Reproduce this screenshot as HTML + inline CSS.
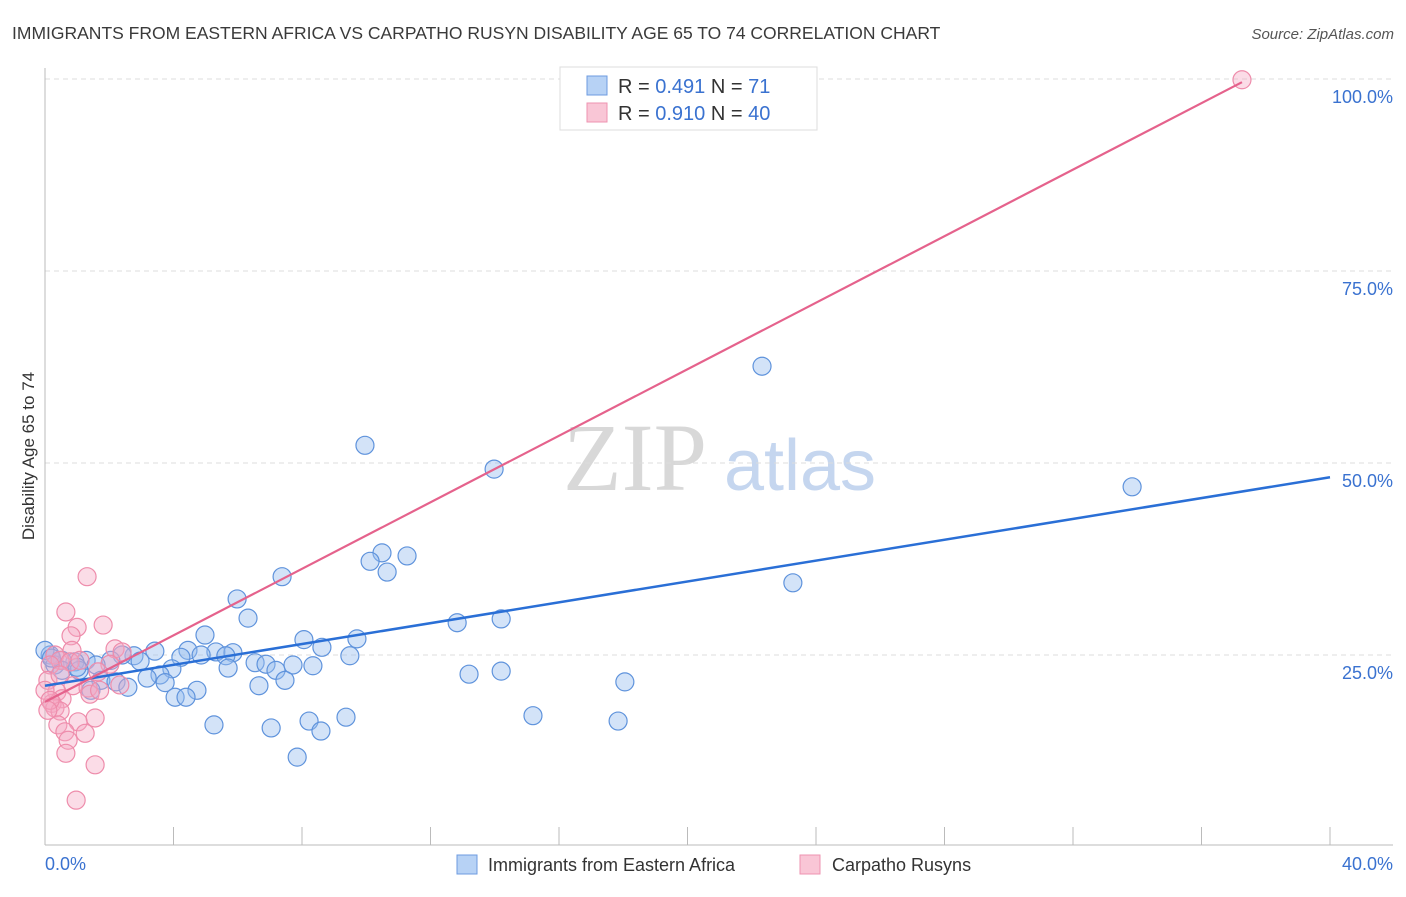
<!DOCTYPE html>
<html><head><meta charset="utf-8"><style>
body{margin:0;background:#fff;font-family:"Liberation Sans",sans-serif}
</style></head><body>
<svg id="chart" width="1406" height="892" xmlns="http://www.w3.org/2000/svg" font-family="Liberation Sans, sans-serif">
<text x="12" y="39" font-size="17.5" fill="#3a3a3a">IMMIGRANTS FROM EASTERN AFRICA VS CARPATHO RUSYN DISABILITY AGE 65 TO 74 CORRELATION CHART</text>
<text x="1394" y="39" font-size="15" fill="#555" font-style="italic" text-anchor="end">Source: ZipAtlas.com</text>
<g>
<text x="635" y="490" font-size="96" font-family="Liberation Serif, serif" fill="#d8d8d8" text-anchor="middle">ZIP</text>
<text x="800" y="490" font-size="72" fill="#c5d6ef" text-anchor="middle">atlas</text>
</g>
<g id="grid"></g>
<g id="axes"></g>
<g id="pts"></g>
<g id="lines"></g>
<text transform="translate(34,456) rotate(-90)" font-size="17" fill="#333" text-anchor="middle">Disability Age 65 to 74</text>
<g>
<rect x="560" y="67" width="257" height="63" fill="#fff" stroke="#ddd"/>
<rect x="587" y="76" width="20" height="19" fill="#b7d2f5" stroke="#6d9be0"/>
<rect x="587" y="103" width="20" height="19" fill="#f9c6d6" stroke="#ee93b0"/>
<text x="618" y="93" font-size="20" fill="#333">R = <tspan fill="#3a72d0">0.491</tspan>   N = <tspan fill="#3a72d0"> 71</tspan></text>
<text x="618" y="120" font-size="20" fill="#333">R = <tspan fill="#3a72d0">0.910</tspan>   N = <tspan fill="#3a72d0">40</tspan></text>
</g>
<g>
<rect x="457" y="855" width="20" height="19" fill="#b7d2f5" stroke="#6d9be0"/>
<text x="488" y="871" font-size="18" fill="#333">Immigrants from Eastern Africa</text>
<rect x="800" y="855" width="20" height="19" fill="#f9c6d6" stroke="#ee93b0"/>
<text x="832" y="871" font-size="18" fill="#333">Carpatho Rusyns</text>
</g>
</svg>
<script>
const blueX=[22.32,9.96,13.98,33.84,11.27,10.49,10.12,10.65,23.28,7.38,5.98,6.32,12.83,14.2,4.98,8.06,9.71,8.62,3.42,4.45,5.32,5.85,4.86,5.63,4.23,9.49,2.77,2.4,2.05,2.96,1.28,0.93,0.53,0.16,0.31,1.59,0.53,1.06,6.54,6.88,7.72,8.34,3.95,5.7,7.19,13.2,14.2,3.58,3.18,1.74,2.21,7.47,18.05,3.74,2.58,6.66,1.43,4.73,4.05,4.39,9.37,15.19,8.22,5.26,17.84,7.04,8.59,7.85,0,0.2,1.0];
const blueY=[62.6,52.3,49.2,46.9,37.9,38.3,37.2,35.8,34.4,35.2,32.3,29.8,29.2,29.7,27.6,27.0,27.1,26.0,25.5,25.6,25.4,25.3,25.0,24.9,24.7,24.9,24.9,25.0,24.3,24.2,24.3,24.1,24.3,25.0,23.7,23.7,23.0,23.0,24.0,23.8,23.7,23.6,23.2,23.3,23.0,22.5,22.9,22.4,22.0,21.7,21.5,21.7,21.5,21.4,20.8,21.0,20.4,20.4,19.5,19.5,16.9,17.1,16.4,15.9,16.4,15.5,15.1,11.7,25.6,24.6,23.4];
const pinkX=[37.26,1.31,0.65,1.81,1.0,0.81,2.18,0.84,2.4,0.31,0.47,0.78,0.16,2.02,1.65,0.09,0.87,1.34,2.33,0.37,1.4,0.53,0.22,0.31,0.47,1.56,1.03,0.4,0.62,1.25,0.72,0.65,1.56,0.97,0,0.16,1.09,0.47,0.09,1.7];
const pinkY=[99.9,35.2,30.6,28.9,28.6,27.5,25.8,25.6,25.4,25.0,24.3,24.1,23.7,23.8,22.8,21.7,21.0,20.7,21.1,20.2,19.9,19.3,18.7,18.1,17.7,16.8,16.3,15.9,15.0,14.8,13.9,12.2,10.7,6.1,20.4,19.1,24.3,22.4,17.8,20.4];
const yTicks=[25,50,75,100];
const xTicks=[0,4,8,12,16,20,24,28,32,36,40];
const NS="http://www.w3.org/2000/svg";
const X0=45,X1=1330,Y0=847,PY=192/25;
const sx=v=>X0+(X1-X0)*v/40, sy=v=>Y0-v*PY;
function mk(t,a,p){const e=document.createElementNS(NS,t);for(const k in a)e.setAttribute(k,a[k]);p.appendChild(e);return e;}
const grid=document.getElementById('grid'),axes=document.getElementById('axes'),pts=document.getElementById('pts'),lines=document.getElementById('lines');
yTicks.forEach(v=>{
 const l=mk('line',{x1:45,x2:1393,y1:sy(v),y2:sy(v),stroke:'#dcdcdc','stroke-dasharray':'5,4'},grid);
 
 
 const t=mk('text',{x:1393,y:sy(v)+24,'font-size':18,fill:'#3a72d0','text-anchor':'end'},grid);
 t.textContent=v.toFixed(1)+'%';
 
 
});
const ax=mk('line',{x1:45,x2:1393,y1:845,y2:845,stroke:'#bbb'},axes);


const ay=mk('line',{x1:45,x2:45,y1:68,y2:845,stroke:'#bbb'},axes);


xTicks.forEach(v=>{if(v===0)return;
 const l=mk('line',{x1:sx(v),x2:sx(v),y1:827,y2:845,stroke:'#bbb'},axes);
 
 
});
const xl0=mk('text',{x:45,y:870,'font-size':18,fill:'#3a72d0'},axes);xl0.textContent=xTicks[0].toFixed(1)+'%';


const xl1=mk('text',{x:1393,y:870,'font-size':18,fill:'#3a72d0','text-anchor':'end'},axes);xl1.textContent=xTicks[xTicks.length-1].toFixed(1)+'%';


function dots(xs,ys,fill,stroke,name){xs.forEach((x,i)=>{
 const c=mk('circle',{cx:sx(x),cy:sy(ys[i]),r:9,fill:fill,stroke:stroke,'stroke-width':1.2},pts);
 
 
});}
dots(blueX,blueY,'rgba(150,188,238,0.42)','#5f93dc','eastern-africa-point');
dots(pinkX,pinkY,'rgba(246,168,194,0.4)','#ee8cab','carpatho-rusyn-point');
function fit(xs,ys){const n=xs.length;let mx=0,my=0;xs.forEach((x,i)=>{mx+=x;my+=ys[i]});mx/=n;my/=n;let a=0,b=0;xs.forEach((x,i)=>{a+=(x-mx)*(ys[i]-my);b+=(x-mx)*(x-mx)});const m=a/b;return [m,my-m*mx];}
const bf=fit(blueX,blueY),pf=fit(pinkX,pinkY);
const bl=mk('line',{x1:sx(0),y1:sy(bf[1]),x2:sx(40),y2:sy(bf[1]+bf[0]*40),stroke:'#2a6fd6','stroke-width':2.5},lines);


const pmx=Math.max(...pinkX);
const pl=mk('line',{x1:sx(0),y1:sy(pf[1]),x2:sx(pmx),y2:sy(pf[1]+pf[0]*pmx),stroke:'#e5628c','stroke-width':2.2},lines);


</script>
</body></html>
